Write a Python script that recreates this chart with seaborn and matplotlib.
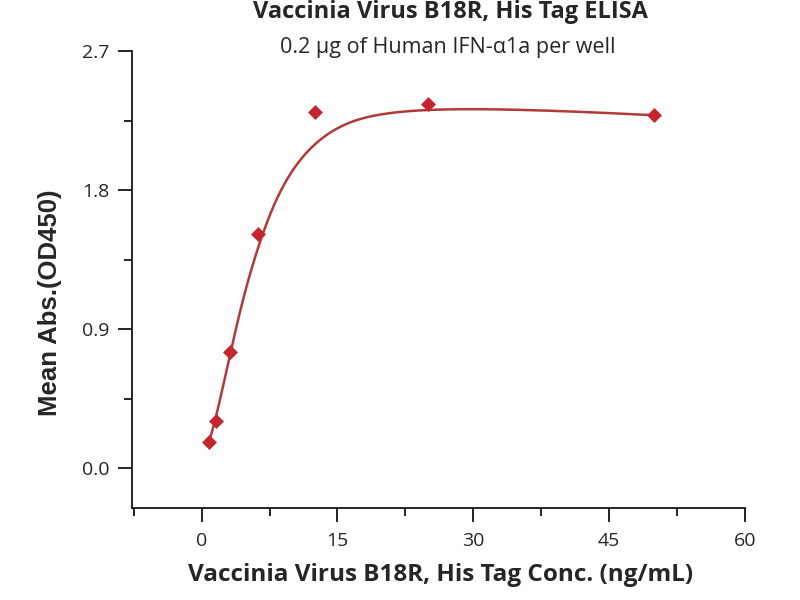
import numpy as np
import pandas as pd
import matplotlib
matplotlib.use("Agg")
import matplotlib.pyplot as plt
from matplotlib.ticker import MultipleLocator
import seaborn as sns

# data
conc = [0.78, 1.56, 3.125, 6.25, 12.5, 25, 50]
absorb = [0.166, 0.306, 0.749, 1.515, 2.304, 2.357, 2.284]

title = "Vaccinia Virus B18R, His Tag ELISA"
subtitle = "0.2 \u00b5g of Human IFN-\u03b11a per well"
xlabel = "Vaccinia Virus B18R, His Tag Conc. (ng/mL)"
ylabel = "Mean Abs.(OD450)"

sns.set_style("white")
plt.rcParams["font.family"] = ["Open Sans", "DejaVu Sans"]

df = pd.DataFrame({"conc": conc, "abs": absorb})


def bspline_basis(knots, deg, u):
    # Cox-de Boor recursion
    N = np.zeros((len(u), len(knots) - 1))
    for i in range(len(knots) - 1):
        N[:, i] = (u >= knots[i]) & (u < knots[i + 1])
    n = len(knots) - deg - 1
    N[u == knots[-1], n - 1] = 1.0
    for d in range(1, deg + 1):
        Nn = np.zeros((len(u), len(knots) - 1 - d))
        for i in range(len(knots) - 1 - d):
            left = 0.0
            right = 0.0
            if knots[i + d] != knots[i]:
                left = (u - knots[i]) / (knots[i + d] - knots[i]) * N[:, i]
            if knots[i + d + 1] != knots[i + 1]:
                right = (knots[i + d + 1] - u) / (knots[i + d + 1] - knots[i + 1]) * N[:, i + 1]
            Nn[:, i] = left + right
        N = Nn
    return N


# the line is a clamped cubic B-spline using the points as control points
npts = len(conc)
knots = np.concatenate([[0] * 3, np.arange(npts - 2), [npts - 3] * 3]).astype(float)
u = np.linspace(0, npts - 3, 500)
basis = bspline_basis(knots, 3, u)
curve = pd.DataFrame({"conc": basis @ np.array(conc), "abs": basis @ np.array(absorb)})

fig = plt.figure(figsize=(8, 6), dpi=100)
ax = fig.add_axes([0.165, 0.153, 0.766, 0.762])

sns.lineplot(data=curve, x="conc", y="abs", ax=ax, color="#B03A3A", linewidth=1.8,
             sort=False, estimator=None)
sns.scatterplot(data=df, x="conc", y="abs", ax=ax, marker="D", color="#C4262E",
                s=58, edgecolor="#C4262E", linewidth=0, zorder=3)

ax.set_xlim(-7.7, 60)
ax.set_ylim(-0.26, 2.7)
ax.xaxis.set_major_locator(MultipleLocator(15))
ax.xaxis.set_minor_locator(MultipleLocator(7.5))
ax.yaxis.set_major_locator(MultipleLocator(0.9))
ax.yaxis.set_minor_locator(MultipleLocator(0.45))
ax.yaxis.set_major_formatter(plt.FormatStrFormatter("%.1f"))

for side in ["top", "right"]:
    ax.spines[side].set_visible(False)
for side in ["left", "bottom"]:
    ax.spines[side].set_color("black")
    ax.spines[side].set_linewidth(1.2)
ax.tick_params(which="both", direction="out", width=1.2, color="black",
               left=True, bottom=True)
ax.tick_params(which="major", length=10, labelsize=14)
ax.tick_params(which="minor", length=5.5)
ax.tick_params(axis="x", which="major", pad=7)
ax.tick_params(axis="y", which="major", pad=6)

ax.set_xlabel("")
ax.set_ylabel("")
fig.text(0.551, 0.042, xlabel, ha="center", va="center", fontsize=17.5, fontweight="bold")
fig.text(0.0625, 0.495, ylabel, ha="center", va="center", rotation=90,
         fontsize=18.5, fontweight="bold", family=["Liberation Sans", "DejaVu Sans"])

fig.text(0.5625, 0.98, title, ha="center", va="center", fontsize=17, fontweight="bold")
fig.text(0.56, 0.92, subtitle, ha="center", va="center", fontsize=15.5)

fig.savefig("out.png", dpi=100)
